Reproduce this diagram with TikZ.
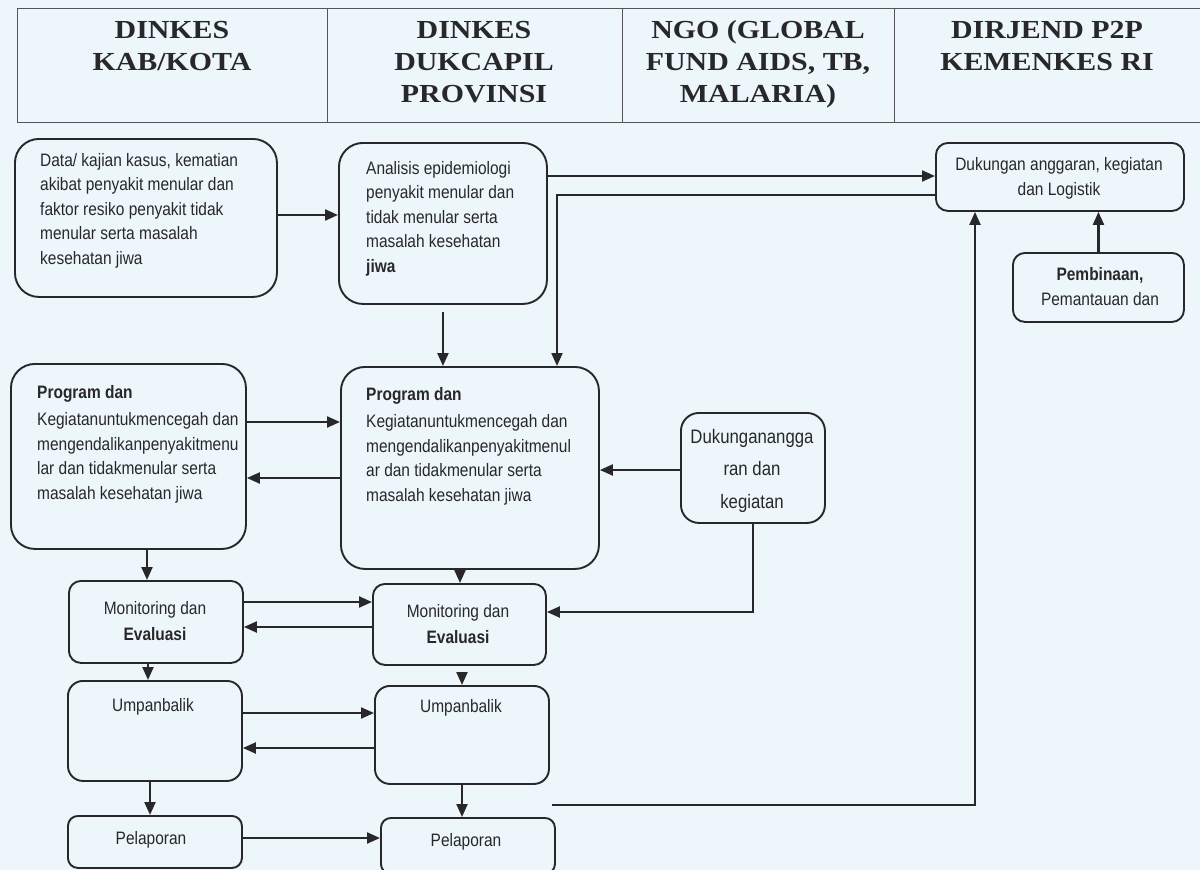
\documentclass[tikz,border=0pt]{standalone}
\usepackage{fontspec}
\setmainfont{Liberation Sans}
\newfontfamily\headfont[FakeStretch=1.15]{Liberation Serif}
\newfontfamily\boxfont[FakeStretch=0.86]{Liberation Sans}
\usetikzlibrary{arrows.meta}

\definecolor{paper}{RGB}{237,246,250}
\definecolor{ink}{RGB}{40,40,42}
\definecolor{headline}{RGB}{85,85,90}

% multi-line text nodes are placed by the baseline of their last line
\tikzset{
  box/.style={draw=ink, line width=1.9pt, rounded corners=#1, inner sep=0pt, anchor=north west},
  box/.default=24pt,
  boxtxt/.style={inner sep=0pt, text=ink, font=\boxfont\fontsize{18}{24.5}\selectfont, align=left, anchor=base west},
  boxmid/.style={inner sep=0pt, text=ink, font=\boxfont\fontsize{18}{24.5}\selectfont, align=center, anchor=base},
  headtxt/.style={inner sep=0pt, text=ink, font=\headfont\bfseries\fontsize{26}{32}\selectfont, align=center, anchor=base},
  headcell/.style={draw=headline, line width=1.4pt, inner sep=0pt, anchor=north west},
  conn/.style={draw=ink, line width=2.2pt, -{Triangle[length=13pt,width=11pt]}},
}

\begin{document}
\begin{tikzpicture}[x=1pt, y=-1pt]
  \fill[paper] (0,0) rectangle (1200,870);
  \useasboundingbox (0,0) rectangle (1200,870);

  % column headings
  \node[headcell, minimum width=310pt, minimum height=114pt] (h1) at (17,8) {};
  \node[headcell, minimum width=295pt, minimum height=114pt] (h2) at (327,8) {};
  \node[headcell, minimum width=272pt, minimum height=114pt] (h3) at (622,8) {};
  \node[headcell, minimum width=320pt, minimum height=114pt] (h4) at (894,8) {};
  \node[headtxt] (t1) at (172,70) {DINKES\\KAB/KOTA};
  \node[headtxt] (t2) at (474,102) {DINKES\\DUKCAPIL\\PROVINSI};
  \node[headtxt] (t3) at (758,102) {NGO (GLOBAL\\FUND AIDS, TB,\\MALARIA)};
  \node[headtxt] (t4) at (1047,70) {DIRJEND P2P\\KEMENKES RI};

  % process boxes
  \node[box, minimum width=262pt, minimum height=158pt] (A) at (14,138) {};
  \node[box, minimum width=208pt, minimum height=161pt] (B) at (338,142) {};
  \node[box=12pt, minimum width=248pt, minimum height=68pt] (C) at (935,142) {};
  \node[box=12pt, minimum width=171pt, minimum height=69pt] (D) at (1012,252) {};
  \node[box, minimum width=235pt, minimum height=185pt] (E) at (10,363) {};
  \node[box, minimum width=258pt, minimum height=202pt] (F) at (340,366) {};
  \node[box=18pt, minimum width=144pt, minimum height=110pt] (G) at (680,412) {};
  \node[box=12pt, minimum width=174pt, minimum height=82pt] (H) at (68,580) {};
  \node[box=12pt, minimum width=173pt, minimum height=81pt] (I) at (372,583) {};
  \node[box=15pt, minimum width=174pt, minimum height=100pt] (J) at (67,680) {};
  \node[box=15pt, minimum width=174pt, minimum height=98pt] (K) at (374,685) {};
  \node[box=10pt, minimum width=174pt, minimum height=52pt] (L) at (67,815) {};
  \node[box=10pt, minimum width=174pt, minimum height=56pt] (M) at (380,817) {};

  % box texts
  \node[boxtxt] (At) at (40,264) {Data/ kajian kasus, kematian\\akibat penyakit menular dan\\faktor resiko penyakit tidak\\menular serta masalah\\kesehatan jiwa};
  \node[boxtxt] (Bt) at (366,272) {Analisis epidemiologi\\penyakit menular dan\\tidak menular serta\\masalah kesehatan\\\textbf{jiwa}};
  \node[boxmid] (Ct) at (1059,195) {Dukungan anggaran, kegiatan\\dan Logistik};
  \node[boxmid] (Dt) at (1100,305) {\textbf{Pembinaan,}\\Pemantauan dan};
  \node[boxtxt] (Et) at (37,499) {\textbf{Program dan}\\[3pt]Kegiatanuntukmencegah dan\\mengendalikanpenyakitmenu\\lar dan tidakmenular serta\\masalah kesehatan jiwa};
  \node[boxtxt] (Ft) at (366,501) {\textbf{Program dan}\\[3pt]Kegiatanuntukmencegah dan\\mengendalikanpenyakitmenul\\ar dan tidakmenular serta\\masalah kesehatan jiwa};
  \node[boxmid, font=\boxfont\fontsize{19.5}{32.5}\selectfont] (Gt) at (752,508) {Dukunganangga\\ran dan\\kegiatan};
  \node[boxmid, font=\boxfont\fontsize{18}{26}\selectfont] (Ht) at (155,640) {Monitoring dan\\\textbf{Evaluasi}};
  \node[boxmid, font=\boxfont\fontsize{18}{26}\selectfont] (It) at (458,643) {Monitoring dan\\\textbf{Evaluasi}};
  \node[boxmid] (Jt) at (153,711) {Umpanbalik};
  \node[boxmid] (Kt) at (461,712) {Umpanbalik};
  \node[boxmid] (Lt) at (151,844) {Pelaporan};
  \node[boxmid] (Mt) at (466,846) {Pelaporan};

  % connectors
  \draw[conn] (A.east |- 0,215) -- (B.west |- 0,215);
  \draw[conn] (B.east |- 0,176) -- (C.west |- 0,176);
  \draw[conn] (C.west |- 0,195) -| (557,0 |- F.north);
  \draw[conn, shorten <=7pt] (B.south) -- (B.south |- F.north);
  \draw[conn] (D.north) -- (D.north |- C.south);
  \draw[conn] (E.east |- 0,422) -- (F.west |- 0,422);
  \draw[conn] (F.west |- 0,478) -- (E.east |- 0,478);
  \draw[conn] (G.west |- 0,470) -- (F.east |- 0,470);
  \draw[conn] (G.south) |- (I.east |- 0,612);
  \draw[conn] (147,0 |- E.south) -- (147,0 |- H.north);
  \draw[conn] (460,0 |- F.south) -- (460,0 |- I.north);
  \draw[conn] (H.east |- 0,602) -- (I.west |- 0,602);
  \draw[conn] (I.west |- 0,627) -- (H.east |- 0,627);
  \draw[conn] (148,0 |- H.south) -- (148,0 |- J.north);
  \draw[conn, shorten <=6pt] (462,0 |- I.south) -- (462,0 |- K.north);
  \draw[conn] (J.east |- 0,713) -- (K.west |- 0,713);
  \draw[conn] (K.west |- 0,748) -- (J.east |- 0,748);
  \draw[conn] (150,0 |- J.south) -- (150,0 |- L.north);
  \draw[conn] (462,0 |- K.south) -- (462,0 |- M.north);
  \draw[conn] (L.east |- 0,838) -- (M.west |- 0,838);
  \coordinate (rep) at (552,805);
  \draw[conn] (rep) -| (975,0 |- C.south);
\end{tikzpicture}
\end{document}
